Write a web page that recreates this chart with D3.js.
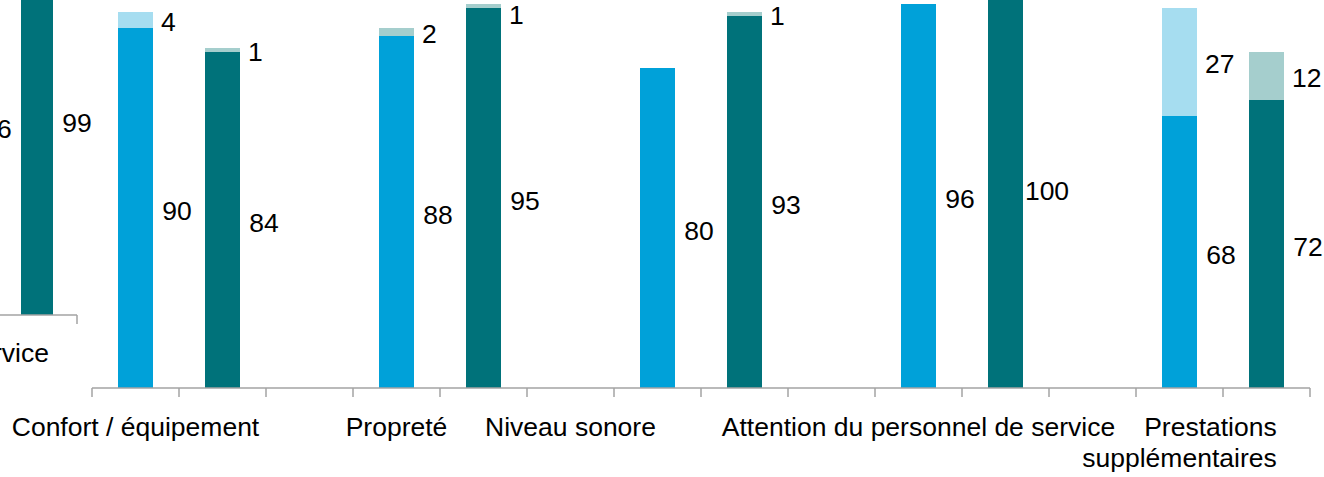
<!DOCTYPE html>
<html>
<head>
<meta charset="utf-8">
<script src="https://cdn.jsdelivr.net/npm/d3@7"></script>
<style>
  html, body { margin: 0; padding: 0; background: #fff; }
  svg { display: block; }
  text { font-family: "Liberation Sans", Arial, Helvetica, sans-serif; font-size: 26.5px; fill: #000; }
</style>
</head>
<body>
<svg id="chart" width="1324" height="477"></svg>
<script>
// ---------------- DATA ----------------
const categories = ["Confort / équipement", "Propreté", "Niveau sonore", "Attention du personnel de service", "Prestations supplémentaires"];
const categoryLines = [["Confort / équipement"], ["Propreté"], ["Niveau sonore"], ["Attention du personnel de service"], ["Prestations", "supplémentaires"]];
const blueMain = [90, 88, 80, 96, 68];
const blueTop  = [4, 2, 0, 0, 27];
const tealMain = [84, 95, 93, 100, 72];
const tealTop  = [1, 1, 1, 0, 12];

// fragment of the neighbouring chart visible at the far left
const prevCategory = "Attention du personnel de service";
const prevBlue = [96];
const prevTeal = [99];

// ---------------- STYLE ----------------
const W = 1324, H = 477;
const colors = { blue: "#00A1D9", blueLight: "#A6DDF0", teal: "#00727A", tealLight: "#A5CECD" };
const topColorOverride = { "Propreté": colors.tealLight };
const axisColor = "#A3A3A3";
const barW = 35;

const svg = d3.select("#chart");

// ---------------- MAIN CHART ----------------
const bandKeys = [];
categories.forEach((c, i) => {
  bandKeys.push(c + "|A", c + "|B");
  if (i < categories.length - 1) bandKeys.push(c + "|gap");
});
const x = d3.scaleBand().domain(bandKeys).range([92, 1310]).paddingInner(0).paddingOuter(0);
const y = d3.scaleLinear().domain([0, 100]).range([388, -12]);
const bw = x.bandwidth();

const bars = [];
categories.forEach((c, i) => {
  bars.push({ key: c + "|A", cat: c, main: blueMain[i], top: blueTop[i], mainColor: colors.blue, topColor: topColorOverride[c] || colors.blueLight });
  bars.push({ key: c + "|B", cat: c, main: tealMain[i], top: tealTop[i], mainColor: colors.teal, topColor: colors.tealLight });
});

const gMain = svg.append("g");
const gb = gMain.selectAll("g.bar").data(bars).join("g").attr("class", "bar");
gb.append("rect")
  .attr("x", d => x(d.key) + (bw - barW) / 2)
  .attr("width", barW)
  .attr("y", d => y(d.main))
  .attr("height", d => y(0) - y(d.main))
  .attr("fill", d => d.mainColor);
gb.filter(d => d.top > 0).append("rect")
  .attr("x", d => x(d.key) + (bw - barW) / 2)
  .attr("width", barW)
  .attr("y", d => y(d.main + d.top))
  .attr("height", d => y(d.main) - y(d.main + d.top))
  .attr("fill", d => d.topColor);

// value labels
gb.append("text")
  .attr("x", d => x(d.key) + (bw + barW) / 2 + 24)
  .attr("y", d => y(d.main / 2) + 3)
  .attr("dy", "0.35em")
  .attr("text-anchor", "middle")
  .text(d => d.main);
gb.filter(d => d.top > 0).append("text")
  .attr("x", d => x(d.key) + (bw + barW) / 2 + 8)
  .attr("y", d => Math.max(y(d.main + d.top / 2) + 2, 15))
  .attr("dy", "0.35em")
  .attr("text-anchor", "start")
  .text(d => d.top);

// axis line with ticks at band edges
const edges = bandKeys.map(k => x(k)).concat([x.range()[1]]);
gMain.append("line")
  .attr("x1", x.range()[0]).attr("x2", x.range()[1])
  .attr("y1", y(0)).attr("y2", y(0))
  .attr("stroke", axisColor).attr("stroke-width", 1.5);
gMain.selectAll("line.tick").data(edges).join("line").attr("class", "tick")
  .attr("x1", d => d).attr("x2", d => d)
  .attr("y1", y(0)).attr("y2", y(0) + 9)
  .attr("stroke", axisColor).attr("stroke-width", 1.5);

// category labels (right-aligned lines within a block centred on the first band)
const labelG = gMain.selectAll("g.cat").data(categories).join("g").attr("class", "cat");
const labelInfo = [];
labelG.each(function (c, i) {
  const g = d3.select(this);
  const lines = categoryLines[i];
  const texts = lines.map((l, j) => g.append("text").attr("y", 436 + j * 31).text(l));
  const widths = texts.map(t => t.node().getComputedTextLength());
  labelInfo.push({ g, texts, widths, center: x(c + "|A") + bw / 2, maxW: Math.max(...widths) });
});
// avoid overlap of first lines: shift left by one band when needed
for (let i = labelInfo.length - 2; i >= 0; i--) {
  const cur = labelInfo[i], nxt = labelInfo[i + 1];
  const nxtLeft = nxt.center + nxt.maxW / 2 - nxt.widths[0];
  while (cur.center + cur.widths[0] / 2 > nxtLeft) cur.center -= bw;
}
labelInfo.forEach(info => {
  const right = info.center + info.maxW / 2;
  info.texts.forEach(t => t.attr("x", right).attr("text-anchor", "end"));
});

// ---------------- FRAGMENT OF NEIGHBOURING CHART ----------------
const clip = svg.append("defs").append("clipPath").attr("id", "fragClip");
clip.append("rect").attr("x", 0).attr("y", 0).attr("width", 92).attr("height", 380);
const gF = svg.append("g").attr("clip-path", "url(#fragClip)");
const xF = d3.scaleBand().domain(["A", "B"]).range([-83, 77]).paddingInner(0).paddingOuter(0);
const yF = d3.scaleLinear().domain([0, 100]).range([315, -80]);
const bwF = xF.bandwidth();
const barWF = 32;
const fragBars = [
  { key: "A", v: prevBlue[0], color: colors.blue },
  { key: "B", v: prevTeal[0], color: colors.teal }
];
gF.selectAll("rect").data(fragBars).join("rect")
  .attr("x", d => xF(d.key) + (bwF - barWF) / 2)
  .attr("width", barWF)
  .attr("y", d => yF(d.v))
  .attr("height", d => yF(0) - yF(d.v))
  .attr("fill", d => d.color);
gF.selectAll("text.val").data(fragBars).join("text").attr("class", "val")
  .attr("x", d => xF(d.key) + (bwF + barWF) / 2 + 24)
  .attr("y", d => yF(d.v / 2) + 3)
  .attr("dy", "0.35em")
  .attr("text-anchor", "middle")
  .text(d => d.v);
gF.append("line")
  .attr("x1", xF.range()[0]).attr("x2", xF.range()[1])
  .attr("y1", yF(0)).attr("y2", yF(0))
  .attr("stroke", axisColor).attr("stroke-width", 1.5);
gF.selectAll("line.tick").data(["A", "B"].map(k => xF(k)).concat([xF.range()[1]])).join("line").attr("class", "tick")
  .attr("x1", d => d).attr("x2", d => d)
  .attr("y1", yF(0)).attr("y2", yF(0) + 9)
  .attr("stroke", axisColor).attr("stroke-width", 1.5);
gF.append("text")
  .attr("x", xF("B") + bwF / 2 + 12)
  .attr("y", 362)
  .attr("text-anchor", "end")
  .text(prevCategory);
</script>
</body>
</html>
